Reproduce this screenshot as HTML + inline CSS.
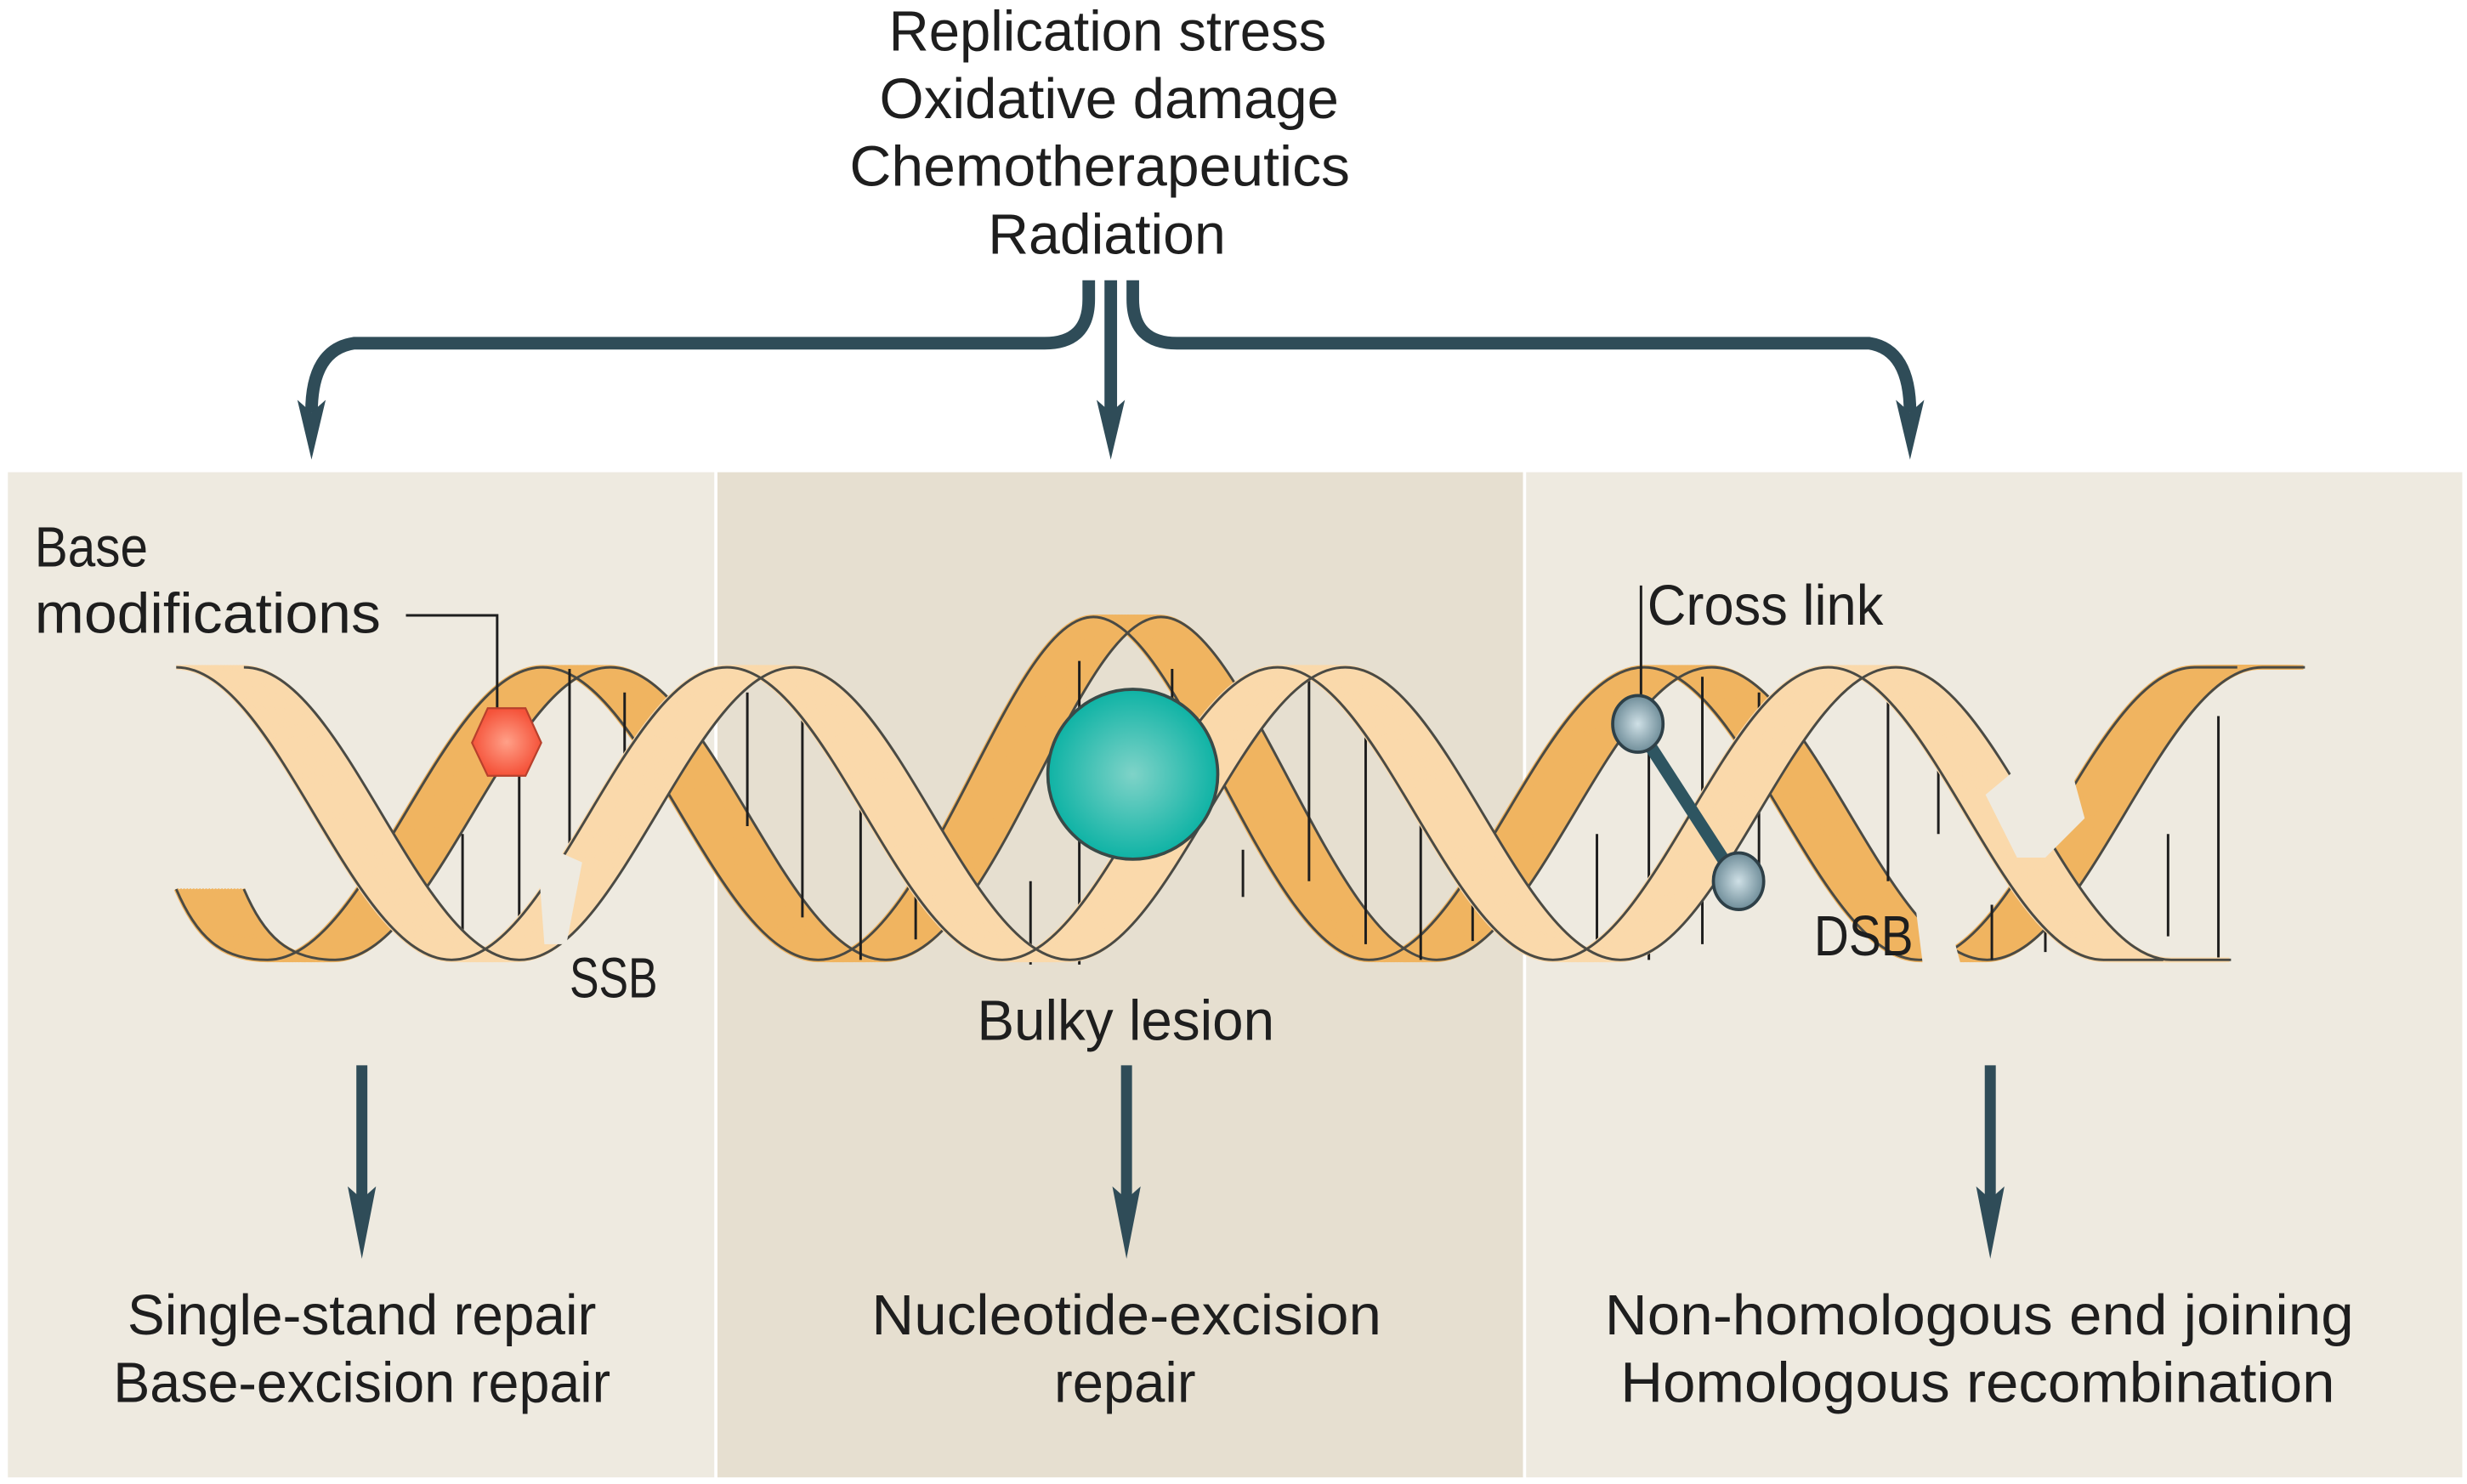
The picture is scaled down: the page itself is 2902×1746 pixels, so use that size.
<!DOCTYPE html>
<html><head><meta charset="utf-8"><style>
html,body{margin:0;padding:0;background:#fff;}
svg{display:block;}
text{font-family:"Liberation Sans",sans-serif;fill:#1e1e1e;}
</style></head><body>
<svg width="2902" height="1746" viewBox="0 0 1568 943" xmlns="http://www.w3.org/2000/svg">
<defs>
<path id="D" d="M112,565 C125,595 140,610 170,610 C234,610 281,424 345,424 S456,610 520,610 C590,610 640,392 695,392 C750,392 806,610 870,610 S981,424 1045,424 S1156,610 1220,610 S1331,424 1395,424 L1422,424" fill="none"/>
<path id="L" d="M112,424 C176,424 223,610 287,610 S398,424 462,424 S573,610 637,610 S748,424 812,424 S923,610 987,610 S1098,424 1162,424 S1273,610 1337,610 L1375,610" fill="none"/>
<radialGradient id="tg" cx="0.5" cy="0.5" r="0.5"><stop offset="0" stop-color="#7fd3c8"/><stop offset="1" stop-color="#0fb3a5"/></radialGradient>
<radialGradient id="bg" cx="0.5" cy="0.5" r="0.5"><stop offset="0" stop-color="#cfe0e6"/><stop offset="1" stop-color="#6f8d99"/></radialGradient>
<radialGradient id="hg" cx="0.5" cy="0.5" r="0.5"><stop offset="0" stop-color="#ffa088"/><stop offset="1" stop-color="#f5533a"/></radialGradient>
</defs>
<rect x="5" y="300" width="449" height="639" fill="#eeeae0"/>
<rect x="456" y="300" width="512" height="639" fill="#e6dfd0"/>
<rect x="970" y="300" width="595" height="639" fill="#eeeae0"/>

<g fill="none" stroke="#2f4c58" stroke-width="8">
<path d="M692,178 L692,190 Q692,218 664,218 L225,218 Q198,222 198,262"/>
<path d="M706,178 L706,268"/>
<path d="M720,178 L720,190 Q720,218 748,218 L1188,218 Q1214,222 1214,262"/>
<path d="M230,677 L230,770" stroke-width="7"/>
<path d="M716,677 L716,770" stroke-width="7"/>
<path d="M1265,677 L1265,770" stroke-width="7"/>
</g>
<g fill="#2f4c58">
<polygon points="189,254 198,262 207,254 198,292"/>
<polygon points="697,254 706,262 715,254 706,292"/>
<polygon points="1205,254 1214,262 1223,254 1214,292"/>
<polygon points="221,754 230,762 239,754 230,800"/>
<polygon points="707,754 716,762 725,754 716,800"/>
<polygon points="1256,754 1265,762 1274,754 1265,800"/>
</g>

<!-- dark strand -->
<g stroke="#f0b460" stroke-width="3">
<use href="#D" x="0"/><use href="#D" x="2"/><use href="#D" x="4"/><use href="#D" x="6"/><use href="#D" x="8"/><use href="#D" x="10"/><use href="#D" x="12"/><use href="#D" x="14"/><use href="#D" x="16"/><use href="#D" x="18"/><use href="#D" x="20"/><use href="#D" x="22"/><use href="#D" x="24"/><use href="#D" x="26"/><use href="#D" x="28"/><use href="#D" x="30"/><use href="#D" x="32"/><use href="#D" x="34"/><use href="#D" x="36"/><use href="#D" x="38"/><use href="#D" x="40"/><use href="#D" x="42"/>
</g>
<g stroke="#4a4a44" stroke-width="1.6"><use href="#D" x="0"/><use href="#D" x="43"/></g>

<!-- base pairs -->
<g stroke="#1e1e1e" stroke-width="1.6">
<line x1="294" y1="530" x2="294" y2="597"/><line x1="330" y1="490" x2="330" y2="610"/>
<line x1="362" y1="425" x2="362" y2="583"/><line x1="397" y1="440" x2="397" y2="525"/>
<line x1="475" y1="440" x2="475" y2="525"/><line x1="510" y1="440" x2="510" y2="583"/>
<line x1="547" y1="490" x2="547" y2="610"/><line x1="582" y1="540" x2="582" y2="597"/>
<line x1="655" y1="560" x2="655" y2="613"/><line x1="686" y1="420" x2="686" y2="613"/>
<line x1="745" y1="425" x2="745" y2="505"/><line x1="790" y1="540" x2="790" y2="570"/>
<line x1="832" y1="430" x2="832" y2="560"/><line x1="868" y1="440" x2="868" y2="600"/>
<line x1="903" y1="470" x2="903" y2="610"/><line x1="936" y1="520" x2="936" y2="598"/>
<line x1="1015" y1="530" x2="1015" y2="600"/><line x1="1048" y1="460" x2="1048" y2="610"/>
<line x1="1082" y1="430" x2="1082" y2="600"/><line x1="1118" y1="440" x2="1118" y2="560"/>
<line x1="1200" y1="445" x2="1200" y2="560"/><line x1="1232" y1="440" x2="1232" y2="530"/>
<line x1="1266" y1="575" x2="1266" y2="610"/><line x1="1300" y1="540" x2="1300" y2="605"/>
<line x1="1378" y1="530" x2="1378" y2="595"/><line x1="1410" y1="455" x2="1410" y2="610"/>
</g>

<!-- light strand -->
<g stroke="#fad9ab" stroke-width="3">
<use href="#L" x="0"/><use href="#L" x="2"/><use href="#L" x="4"/><use href="#L" x="6"/><use href="#L" x="8"/><use href="#L" x="10"/><use href="#L" x="12"/><use href="#L" x="14"/><use href="#L" x="16"/><use href="#L" x="18"/><use href="#L" x="20"/><use href="#L" x="22"/><use href="#L" x="24"/><use href="#L" x="26"/><use href="#L" x="28"/><use href="#L" x="30"/><use href="#L" x="32"/><use href="#L" x="34"/><use href="#L" x="36"/><use href="#L" x="38"/><use href="#L" x="40"/><use href="#L" x="42"/>
</g>
<g stroke="#4a4a44" stroke-width="1.6"><use href="#L" x="0"/><use href="#L" x="43"/></g>

<!-- breaks -->
<polygon points="343,560 352,540 370,548 360,600 346,600" fill="#eeeae0"/>
<polygon points="1262,505 1310,465 1325,520 1300,545 1282,545" fill="#eeeae0"/>
<polygon points="1218,580 1236,575 1246,612 1222,612" fill="#eeeae0"/>

<!-- lesions -->
<polyline points="258,391 316,391 316,462" fill="none" stroke="#1e1e1e" stroke-width="1.6"/>
<polygon points="310,450 334,450 344,472 334,493 310,493 300,472" fill="url(#hg)" stroke="#b8402c" stroke-width="1.2"/>
<circle cx="720" cy="492" r="54" fill="url(#tg)" stroke="#3a4a48" stroke-width="2"/>
<line x1="1043" y1="372" x2="1043" y2="460" stroke="#1e1e1e" stroke-width="1.6"/>
<line x1="1043" y1="465" x2="1103" y2="558" stroke="#2e5561" stroke-width="8"/>
<ellipse cx="1041" cy="460" rx="16" ry="18" fill="url(#bg)" stroke="#2e4048" stroke-width="2"/>
<ellipse cx="1105" cy="560" rx="16" ry="18" fill="url(#bg)" stroke="#2e4048" stroke-width="2"/>

<!-- text -->
<g font-size="36">
<text x="565" y="32" textLength="278" lengthAdjust="spacingAndGlyphs">Replication stress</text>
<text x="559" y="75" textLength="292" lengthAdjust="spacingAndGlyphs">Oxidative damage</text>
<text x="540" y="118" textLength="318" lengthAdjust="spacingAndGlyphs">Chemotherapeutics</text>
<text x="628" y="161" textLength="151" lengthAdjust="spacingAndGlyphs">Radiation</text>
<text x="22" y="360" textLength="72" lengthAdjust="spacingAndGlyphs">Base</text>
<text x="22" y="402" textLength="220" lengthAdjust="spacingAndGlyphs">modifications</text>
<text x="1047" y="397" textLength="150" lengthAdjust="spacingAndGlyphs">Cross link</text>
<text x="362" y="634" textLength="56" lengthAdjust="spacingAndGlyphs">SSB</text>
<text x="1153" y="607" textLength="63" lengthAdjust="spacingAndGlyphs">DSB</text>
<text x="621" y="661" textLength="189" lengthAdjust="spacingAndGlyphs">Bulky lesion</text>
<text x="81" y="848" textLength="298" lengthAdjust="spacingAndGlyphs">Single-stand repair</text>
<text x="72" y="891" textLength="316" lengthAdjust="spacingAndGlyphs">Base-excision repair</text>
<text x="554" y="848" textLength="324" lengthAdjust="spacingAndGlyphs">Nucleotide-excision</text>
<text x="670" y="891" textLength="90" lengthAdjust="spacingAndGlyphs">repair</text>
<text x="1020" y="848" textLength="476" lengthAdjust="spacingAndGlyphs">Non-homologous end joining</text>
<text x="1030" y="891" textLength="454" lengthAdjust="spacingAndGlyphs">Homologous recombination</text>
</g>
</svg>
</body></html>
